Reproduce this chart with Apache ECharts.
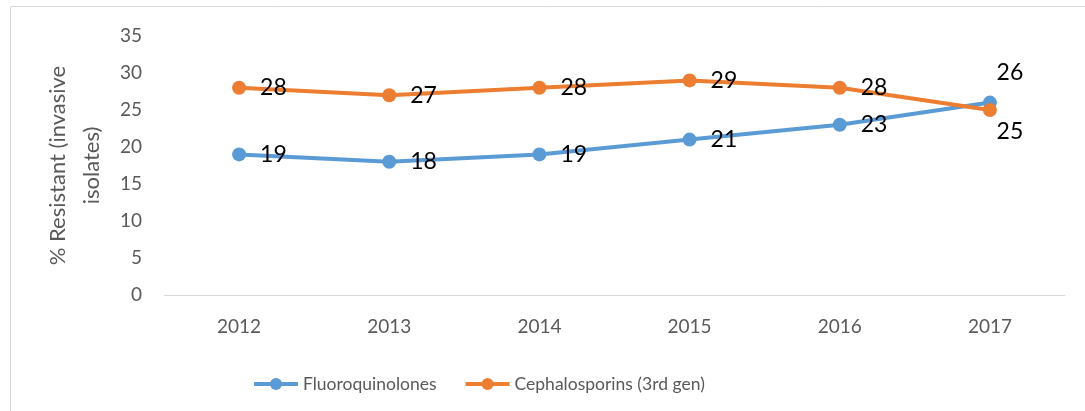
<!DOCTYPE html>
<html>
<head>
<meta charset="utf-8">
<script src="https://cdn.jsdelivr.net/npm/echarts@6/dist/echarts.min.js"></script>
<style>
  html, body { margin: 0; padding: 0; background: #fff; }
  #chart { width: 1085px; height: 411px; }
</style>
</head>
<body>
<div id="chart"></div>
<script>
var years = ['2012', '2013', '2014', '2015', '2016', '2017'];
var fluoroquinolones = [19, 18, 19, 21, 23, 26];
var cephalosporins = [28, 27, 28, 29, 28, 25];
var yTicks = [0, 5, 10, 15, 20, 25, 30, 35];

var font = 'Lato, "Open Sans", sans-serif';

// last point labels sit above / below instead of to the right
function withLabels(values, lastPos) {
  return values.map(function (v, i) {
    if (i === values.length - 1) {
      return { value: v, label: { position: lastPos, offset: [20, lastPos === 'top' ? 2 : -11] } };
    }
    return v;
  });
}

var myChart = echarts.init(document.getElementById('chart'));
var option = {
  animation: false,
  textStyle: { fontFamily: font },
  graphic: [{
    type: 'rect',
    shape: { x: 10.5, y: 6.5, width: 1100, height: 420 },
    style: { fill: 'none', stroke: '#d9d9d9', lineWidth: 1 }
  }],
  grid: { left: 164, right: 20, top: 36, bottom: 116 },
  legend: {
    left: 247,
    top: 370,
    itemWidth: 44,
    itemHeight: 15,
    itemGap: 27,
    lineStyle: { width: 4 },
    textStyle: { fontSize: 17.5, color: '#595959', fontFamily: font },
    data: [
      { name: 'Fluoroquinolones', lineStyle: { width: 4 } },
      { name: 'Cephalosporins (3rd gen)', lineStyle: { width: 4 } }
    ]
  },
  xAxis: {
    type: 'category',
    data: years,
    boundaryGap: true,
    axisLine: { lineStyle: { color: '#d9d9d9', width: 1 } },
    axisTick: { show: false },
    axisLabel: { color: '#595959', fontSize: 19, margin: 22 }
  },
  yAxis: {
    type: 'value',
    min: yTicks[0],
    max: yTicks[yTicks.length - 1],
    interval: 5,
    name: '% Resistant (invasive\nisolates)',
    nameLocation: 'middle',
    nameGap: 50,
    nameTextStyle: { fontSize: 22, color: '#595959', lineHeight: 34 },
    axisLine: { show: false },
    axisTick: { show: false },
    splitLine: { show: false },
    axisLabel: { color: '#595959', fontSize: 19, margin: 22 }
  },
  series: [
    {
      name: 'Fluoroquinolones',
      type: 'line',
      data: withLabels(fluoroquinolones, 'top'),
      symbol: 'circle',
      symbolSize: 14,
      itemStyle: { color: '#5B9BD5' },
      lineStyle: { color: '#5B9BD5', width: 4 },
      label: { show: true, position: 'right', distance: 14, fontSize: 23, color: '#000' }
    },
    {
      name: 'Cephalosporins (3rd gen)',
      type: 'line',
      data: withLabels(cephalosporins, 'bottom'),
      symbol: 'circle',
      symbolSize: 14,
      itemStyle: { color: '#ED7D31' },
      lineStyle: { color: '#ED7D31', width: 4 },
      label: { show: true, position: 'right', distance: 14, fontSize: 23, color: '#000' }
    }
  ]
};
myChart.setOption(option);
</script>
</body>
</html>
